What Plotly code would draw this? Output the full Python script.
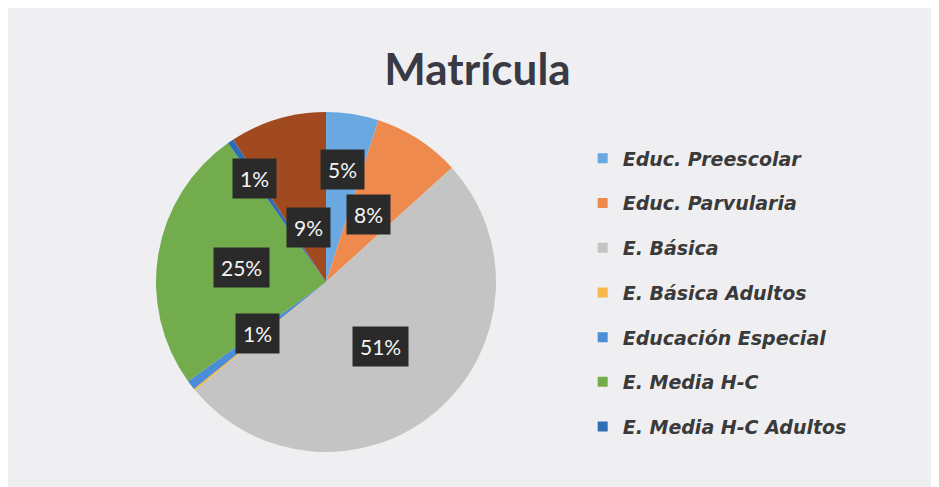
import math
import plotly.graph_objects as go

# slice data, clockwise from 12 o'clock
categories = ["Educ. Preescolar", "Educ. Parvularia", "E. Básica", "E. Básica Adultos",
              "Educación Especial", "E. Media H-C", "E. Media H-C Adultos", "Otros"]
shares = [5.0, 8.3, 50.8, 0.2, 0.9, 25.2, 0.6, 9.2]
colors = ["#6AA8E2", "#EE8A4E", "#C4C4C4", "#F7B84A",
          "#4D8CD6", "#72AC4D", "#2E6DB4", "#A24A1F"]
legend_items = categories[:7]

# how far out each label box sits (fraction of radius)
label_r = [0.68, 0.48, 0.51, None, 0.51, 0.51, 0.75, 0.34]

W, H = 939, 487
cx_px, cy_px, rad = 318, 274, 170

fig = go.Figure()
fig.add_trace(go.Pie(
    labels=categories,
    values=shares,
    sort=False,
    direction="clockwise",
    rotation=0,
    marker=dict(colors=colors, line=dict(width=0)),
    textinfo="none",
    hoverinfo="label+percent",
    showlegend=False,
    domain=dict(x=[(cx_px - rad) / W, (cx_px + rad) / W],
                y=[(H - cy_px - rad) / H, (H - cy_px + rad) / H]),
))

# dummy traces for the legend (the brown slice is not in it)
for name, col in zip(legend_items, colors):
    fig.add_trace(go.Scatter(
        x=[None], y=[None], mode="markers", name=name, legendgroup=name,
        marker=dict(symbol="square", size=10, color=col),
    ))

# dark label boxes, placed from the slice angles
cx_real, cy_real = 317, 274
total = sum(shares)
start = 0.0
annots = []
for v, fr in zip(shares, label_r):
    ang = (start + v / 2) / total * 2 * math.pi
    start += v
    if fr is None:
        continue
    x = (cx_real + 167 * fr * math.sin(ang)) / W
    y = (H - cy_real + 167 * fr * math.cos(ang)) / H
    annots.append(dict(
        x=x, y=y, xref="paper", yref="paper", showarrow=False,
        xanchor="center", yanchor="middle",
        text=f"{round(v)}%", bgcolor="#2A2A2A", borderpad=7,
        font=dict(family="Lato", size=21, color="#F4F4F4"),
    ))

fig.update_layout(
    width=W, height=H,
    paper_bgcolor="#EFEFF1",
    plot_bgcolor="rgba(0,0,0,0)",
    margin=dict(l=0, r=0, t=0, b=0),
    title=dict(text="<b>Matrícula</b>", x=0.5, xanchor="center", y=0.874, yanchor="middle",
               font=dict(family="Lato", size=44, color="#3A3A44")),
    xaxis=dict(visible=False), yaxis=dict(visible=False),
    legend=dict(x=0.612, y=0.73, xanchor="left", yanchor="top",
                bgcolor="rgba(0,0,0,0)", tracegroupgap=17, itemwidth=30,
                font=dict(family="DejaVu Sans", size=19, color="#3A3A3A",
                          style="italic", weight="bold")),
    annotations=annots,
)

fig.write_html("out.html")
